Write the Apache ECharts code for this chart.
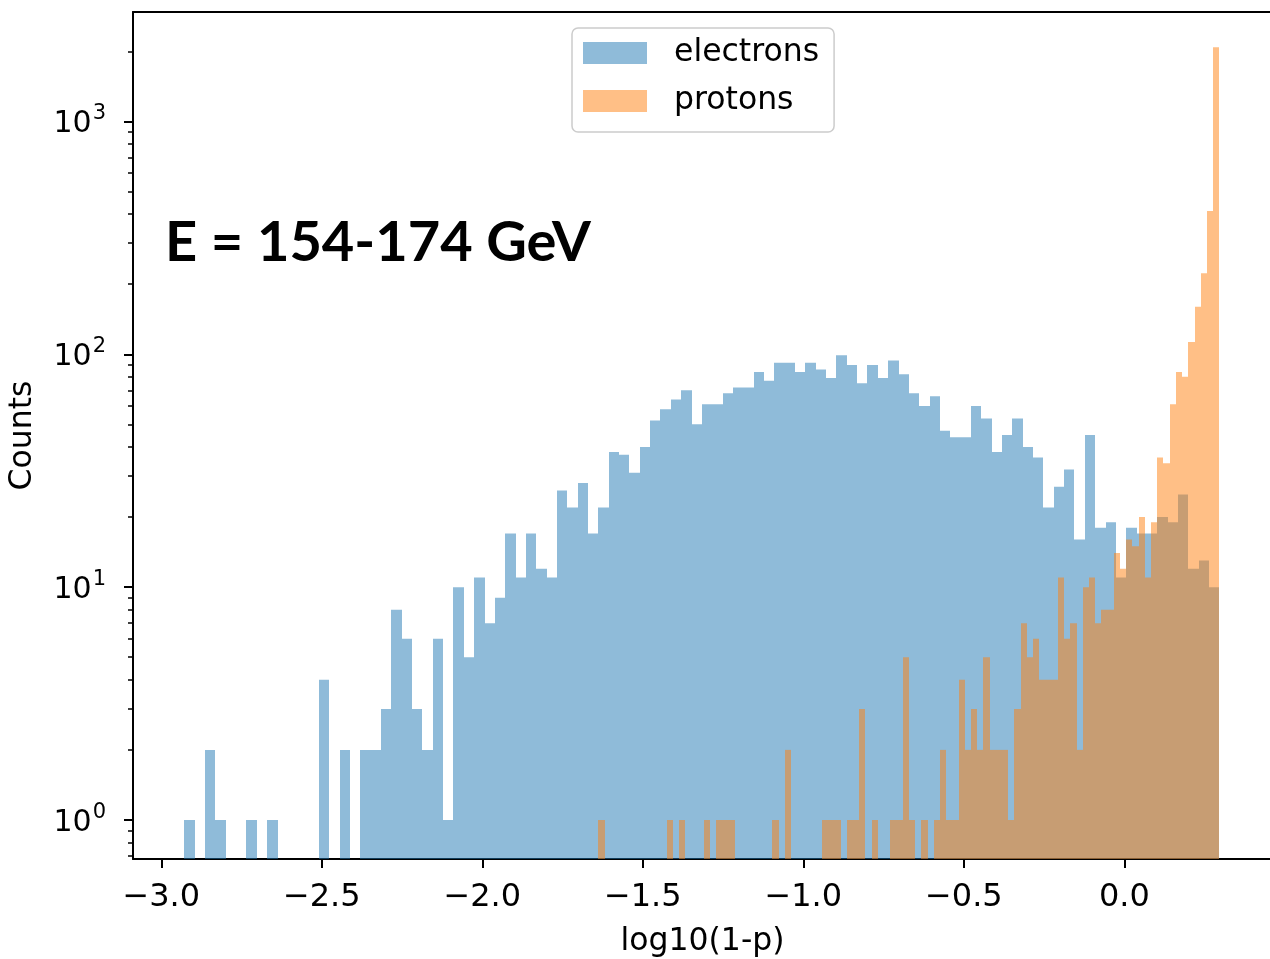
<!DOCTYPE html>
<html>
<head>
<meta charset="utf-8">
<script src="https://cdn.jsdelivr.net/npm/echarts@6/dist/echarts.min.js"></script>
<style>
  html, body { margin: 0; padding: 0; background: #ffffff; }
  #chart { width: 1270px; height: 959px; }
</style>
</head>
<body>
<div id="chart"></div>
<script>
// Histogram of log10(1-p), 100 equal bins per species
const electronRange = [-2.928, 0.296];
const electronCounts = [
  1, 0, 2, 1, 0, 0, 1, 0, 1, 0,
  0, 0, 0, 4, 0, 2, 0, 2, 2, 3,
  8, 6, 3, 2, 6, 1, 10, 5, 11, 7,
  9, 17, 11, 17, 12, 11, 26, 22, 28, 17,
  22, 38, 37, 31, 40, 52, 58, 64, 70, 50,
  61, 61, 68, 72, 72, 84, 77, 92, 92, 84,
  92, 86, 79, 99, 90, 75, 90, 79, 94, 82,
  68, 60, 66, 47, 44, 44, 60, 53, 38, 45,
  53, 40, 36, 22, 27, 32, 16, 45, 18, 19,
  11, 18, 17, 17, 20, 19, 25, 12, 13, 10
];
const protonRange = [-1.638, 0.296];
const protonCounts = [
  1, 0, 0, 0, 0, 0, 0, 0, 0, 0,
  0, 1, 0, 1, 0, 0, 0, 1, 0, 1,
  1, 1, 0, 0, 0, 0, 0, 0, 1, 0,
  2, 0, 0, 0, 0, 0, 1, 1, 1, 0,
  1, 1, 3, 0, 1, 0, 0, 1, 1, 5,
  1, 0, 1, 0, 1, 2, 1, 1, 4, 2,
  3, 2, 5, 2, 2, 2, 1, 3, 7, 5,
  6, 4, 4, 4, 11, 6, 7, 2, 10, 11,
  7, 8, 8, 14, 12, 16, 15, 20, 11, 19,
  36, 34, 61, 84, 80, 113, 160, 223, 412, 2084
];
const xTickValues = [-3.0, -2.5, -2.0, -1.5, -1.0, -0.5, 0.0];
const yMajorTicks = [1, 10, 100, 1000];
const yMinorTicks = [0.7, 0.8, 0.9, 2, 3, 4, 5, 6, 7, 8, 9, 20, 30, 40, 50, 60, 70, 80, 90,
  200, 300, 400, 500, 600, 700, 800, 900, 2000];

const X_MIN = -3.088, X_MAX = 0.460;
const Y_MIN = 0.68, Y_MAX = 2950;
const FONT = 'DejaVu Sans';

function binData(range, counts) {
  const w = (range[1] - range[0]) / counts.length;
  const out = [];
  counts.forEach((c, i) => {
    if (c > 0) out.push([range[0] + i * w, range[0] + (i + 1) * w, c]);
  });
  return out;
}

function histSeries(name, fill, range, counts, z) {
  return {
    name: name,
    type: 'custom',
    z: z,
    itemStyle: { color: fill },
    encode: { x: [0, 1], y: 2 },
    data: binData(range, counts),
    renderItem: function (params, api) {
      const top = api.coord([api.value(0), api.value(2)]);
      const base = api.coord([api.value(1), Y_MIN]);
      const x0 = Math.round(top[0]);
      const x1 = Math.round(base[0]);
      return {
        type: 'rect',
        shape: { x: x0, y: top[1], width: x1 - x0, height: base[1] - top[1] },
        style: { fill: fill }
      };
    }
  };
}

const spine = { color: '#000000', width: 2 };

const option = {
  animation: false,
  backgroundColor: '#ffffff',
  grid: { left: 133, top: 12, width: 1139, height: 847, show: false, outerBoundsMode: 'none', containLabel: false },
  legend: {
    orient: 'vertical',
    left: 572, top: 28,
    itemWidth: 64, itemHeight: 22, itemGap: 16,
    padding: [9, 15, 15, 11],
    backgroundColor: '#ffffff',
    borderColor: '#cccccc', borderWidth: 1.5, borderRadius: 6,
    textStyle: { fontFamily: FONT, fontSize: 31.5, lineHeight: 26, color: '#000000', padding: [0, 0, 0, 22] },
    data: [
      { name: 'electrons', icon: 'rect', itemStyle: { color: '#8fbbd9' } },
      { name: 'protons', icon: 'rect', itemStyle: { color: '#ffbf86' } }
    ]
  },
  graphic: [{
    type: 'text', left: 165, top: 215, z: 100,
    style: { text: 'E = 154-174 GeV', fontFamily: 'Lato', fontWeight: 'bold', fontSize: 56, fill: '#000000' }
  }],
  xAxis: [{
    type: 'value', min: X_MIN, max: X_MAX,
    name: 'log10(1-p)', nameLocation: 'middle', nameGap: 67,
    nameTextStyle: { fontFamily: FONT, fontSize: 31.5, color: '#000000' },
    axisLine: { show: true, onZero: false, lineStyle: spine },
    axisTick: { show: true, customValues: xTickValues, length: 9, lineStyle: spine },
    axisLabel: {
      customValues: xTickValues, margin: 23,
      fontFamily: FONT, fontSize: 32, color: '#000000',
      formatter: v => v.toFixed(1).replace('-', '\u2212')
    },
    splitLine: { show: false }
  }, {
    // top spine
    type: 'value', min: X_MIN, max: X_MAX, position: 'top',
    axisLine: { show: true, onZero: false, lineStyle: spine },
    axisTick: { show: false }, axisLabel: { show: false }, splitLine: { show: false }
  }],
  yAxis: [{
    type: 'log', logBase: 10, min: Y_MIN, max: Y_MAX,
    name: 'Counts', nameLocation: 'middle', nameGap: 94,
    nameTextStyle: { fontFamily: FONT, fontSize: 31.5, color: '#000000' },
    axisLine: { show: true, onZero: false, lineStyle: spine },
    axisTick: { show: true, customValues: yMajorTicks, length: 9, lineStyle: spine },
    axisLabel: {
      customValues: yMajorTicks, margin: 27,
      formatter: v => '{b|10}{s|' + Math.round(Math.log10(v)) + '}',
      rich: {
        b: { fontFamily: FONT, fontSize: 30, color: '#000000', padding: [6, 0, 0, 0] },
        s: { fontFamily: FONT, fontSize: 21, color: '#000000', padding: [0, 0, 15, 1] }
      }
    },
    splitLine: { show: false }
  }, {
    type: 'log', logBase: 10, min: Y_MIN, max: Y_MAX, position: 'left',
    axisLine: { show: false, onZero: false },
    axisTick: { show: true, customValues: yMinorTicks, length: 5, lineStyle: { color: '#000000', width: 1.5 } },
    axisLabel: { show: false },
    splitLine: { show: false }
  }],
  series: [
    histSeries('electrons', 'rgba(31,119,180,0.5)', electronRange, electronCounts, 2),
    histSeries('protons', 'rgba(255,127,14,0.5)', protonRange, protonCounts, 3)
  ]
};

const chart = echarts.init(document.getElementById('chart'), null, { renderer: 'canvas' });
chart.setOption(option);
</script>
</body>
</html>
